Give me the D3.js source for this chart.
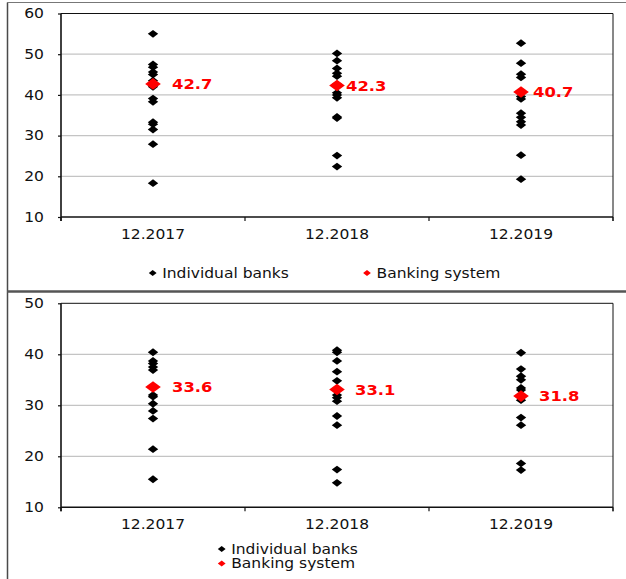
<!DOCTYPE html>
<html>
<head>
<meta charset="utf-8">
<script src="https://cdn.jsdelivr.net/npm/d3@7"></script>
<style>
  html, body { margin: 0; padding: 0; background: #fff; }
  svg { display: block; }
  text { font-family: "DejaVu Sans", Verdana, sans-serif; fill: #111; }
</style>
</head>
<body>
<svg id="chart" width="626" height="579"></svg>
<script>
// ---------- DATA ----------
const categories = ["12.2017", "12.2018", "12.2019"];

// Top panel
const topTicks = [10, 20, 30, 40, 50, 60];
const topBanks2017 = [55, 47.5, 46.8, 45.6, 45, 43.5, 42, 39.1, 38.3, 33.3, 32.8, 31.5, 27.9, 18.3];
const topBanks2018 = [50.2, 48.4, 46.5, 45.3, 44.6, 42.6, 40.5, 40, 39.3, 34.6, 34.3, 25.1, 22.4];
const topBanks2019 = [52.7, 47.8, 45.1, 44.3, 39.6, 39, 35.5, 34.5, 33.4, 32.6, 25.2, 19.3];
const topSystem = [42.7, 42.3, 40.7];

// Bottom panel
const bottomTicks = [10, 20, 30, 40, 50];
const bottomBanks2017 = [40.4, 38.7, 38.2, 37.5, 36.9, 32.0, 31.7, 30.3, 28.9, 27.4, 21.4, 15.5];
const bottomBanks2018 = [40.8, 40.4, 38.7, 36.6, 34.8, 32.0, 31.5, 30.8, 27.9, 26.1, 17.4, 14.8];
const bottomBanks2019 = [40.3, 37.1, 35.7, 35.0, 33.4, 33.0, 31.0, 27.6, 26.1, 18.6, 17.3];
const bottomSystem = [33.6, 33.1, 31.8];

const legendLabels = ["Individual banks", "Banking system"];

// ---------- LAYOUT ----------
const svg = d3.select("#chart");
const SX = 1.15; // horizontal text stretch
const plotLeft = 61, plotRight = 613;

function diamond(rx, ry) {
  const p = d3.path();
  p.moveTo(0, -ry); p.lineTo(rx, 0); p.lineTo(0, ry); p.lineTo(-rx, 0); p.closePath();
  return p.toString();
}

// frames
svg.append("line").attr("x1", 7.5).attr("x2", 7.5).attr("y1", 2.5).attr("y2", 579)
  .attr("stroke", "#4a4a4a").attr("stroke-width", 1.5);
svg.append("line").attr("x1", 7).attr("x2", 626).attr("y1", 2.5).attr("y2", 2.5)
  .attr("stroke", "#777").attr("stroke-width", 1);
svg.append("line").attr("x1", 7).attr("x2", 626).attr("y1", 291.5).attr("y2", 291.5)
  .attr("stroke", "#555").attr("stroke-width", 2.5);

const panels = [
  { top: 13.5, bottom: 217, domain: [10, 60], ticks: topTicks,
    banks: [topBanks2017, topBanks2018, topBanks2019], system: topSystem,
    labelDx: [19, 9, 12], legend: "row", legendY: 273 },
  { top: 303.3, bottom: 507.3, domain: [10, 50], ticks: bottomTicks,
    banks: [bottomBanks2017, bottomBanks2018, bottomBanks2019], system: bottomSystem,
    labelDx: [19, 18, 18], legend: "stack", legendY: 549 }
];

panels.forEach(pn => {
  const g = svg.append("g");
  const x = d3.scaleBand().domain(categories).range([plotLeft, plotRight]).padding(0);
  const y = d3.scaleLinear().domain(pn.domain).range([pn.bottom, pn.top]);

  // gridlines
  g.selectAll("line.grid").data(pn.ticks.filter(t => t > pn.domain[0] && t < pn.domain[1]))
    .join("line").attr("class", "grid")
    .attr("x1", plotLeft).attr("x2", plotRight)
    .attr("y1", d => y(d)).attr("y2", d => y(d))
    .attr("stroke", "#c4c4c4").attr("stroke-width", 1.3);

  // plot border (top/right)
  g.append("line").attr("x1", plotLeft).attr("x2", plotRight).attr("y1", pn.top).attr("y2", pn.top)
    .attr("stroke", "#111").attr("stroke-width", 1);
  g.append("line").attr("x1", plotRight).attr("x2", plotRight).attr("y1", pn.top).attr("y2", pn.bottom + 4)
    .attr("stroke", "#111").attr("stroke-width", 1);

  // y axis
  const ya = g.append("g").attr("transform", `translate(${plotLeft},0)`)
    .call(d3.axisLeft(y).tickValues(pn.ticks).tickSize(3).tickFormat(d3.format("d")));
  ya.select(".domain").attr("stroke", "#111").attr("stroke-width", 1.6)
    .attr("d", `M0,${pn.top}V${pn.bottom + 4}`);
  ya.selectAll(".tick line").attr("stroke", "#111").attr("stroke-width", 1.2);
  ya.selectAll(".tick text").attr("x", 0).attr("font-size", 13.5)
    .attr("transform", `translate(-17,0) scale(${SX},1)`);

  // x axis
  const xa = g.append("g").attr("transform", `translate(0,${pn.bottom})`)
    .call(d3.axisBottom(x).tickSize(0).tickPadding(12));
  xa.select(".domain").attr("stroke", "#111").attr("stroke-width", 1.6)
    .attr("d", `M${plotLeft},0H${plotRight}`);
  xa.selectAll(".tick text").attr("font-size", 13.5)
    .attr("transform", `scale(${SX},1)`);
  // band boundary ticks
  const bounds = categories.map(c => x(c)).concat([x.range()[1]]);
  g.selectAll("line.xt").data(bounds).join("line").attr("class", "xt")
    .attr("x1", d => d).attr("x2", d => d)
    .attr("y1", pn.bottom).attr("y2", pn.bottom + 4)
    .attr("stroke", "#111").attr("stroke-width", 1.2);

  // individual banks
  categories.forEach((c, i) => {
    const cx = x(c) + x.bandwidth() / 2;
    g.selectAll(null).data(pn.banks[i]).join("path")
      .attr("d", diamond(5.2, 3.9))
      .attr("transform", d => `translate(${cx},${y(d)})`)
      .attr("fill", "#000");
  });

  // banking system
  categories.forEach((c, i) => {
    const cx = x(c) + x.bandwidth() / 2;
    const v = pn.system[i];
    g.append("path").attr("d", diamond(7.8, 5.8))
      .attr("transform", `translate(${cx},${y(v)})`).attr("fill", "#ff0000");
    g.append("text")
      .attr("transform", `translate(${cx + pn.labelDx[i]},${y(v)}) scale(1.17,1)`)
      .attr("dy", "0.36em").attr("font-size", 14).attr("font-weight", "bold")
      .style("fill", "#ff0000").text(d3.format(".1f")(v));
  });

  // legend
  const colors = ["#000", "#ff0000"];
  const items = pn.legend === "row"
    ? [{ x: 152.7, y: pn.legendY }, { x: 367, y: pn.legendY }]
    : [{ x: 221.7, y: pn.legendY }, { x: 221.7, y: pn.legendY + 14.5 }];
  legendLabels.forEach((lab, i) => {
    const it = items[i];
    g.append("path").attr("d", diamond(3.9, 2.9))
      .attr("transform", `translate(${it.x},${it.y})`).attr("fill", colors[i]);
    g.append("text")
      .attr("transform", `translate(${it.x + 9.5},${it.y}) scale(${SX},1)`)
      .attr("dy", "0.36em").attr("font-size", 13.5).text(lab);
  });
});
</script>
</body>
</html>
